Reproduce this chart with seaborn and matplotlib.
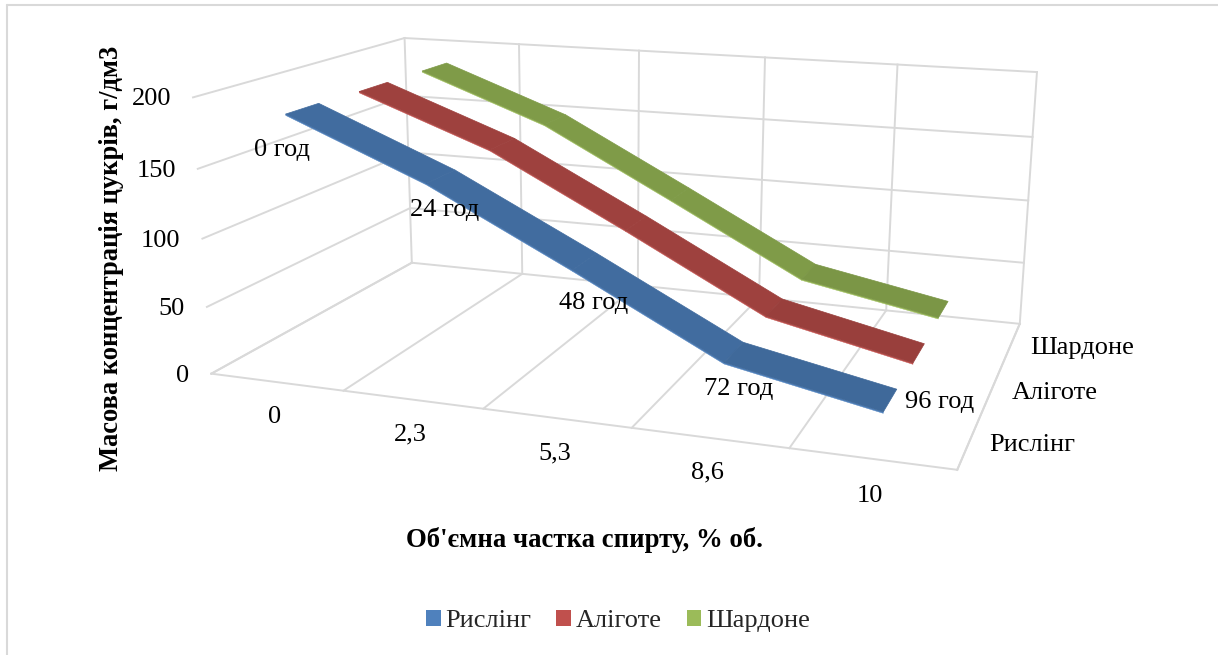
import numpy as np
import matplotlib
matplotlib.use('Agg')
import matplotlib.pyplot as plt
from matplotlib.lines import Line2D
from matplotlib.patches import Patch
from mpl_toolkits.mplot3d.art3d import Poly3DCollection
import seaborn as sns

# ---- data ----
alcohol_labels = ['0', '2,3', '5,3', '8,6', '10']
time_labels = ['0 год', '24 год', '48 год', '72 год', '96 год']
series_names = ['Рислінг', 'Аліготе', 'Шардоне']
riesling = [187, 146, 95, 42, 21]
aligote = [186, 149, 97, 43, 20]
chardonnay = [186, 149, 96, 42, 22]
z_ticks = [0, 50, 100, 150, 200]

series_values = [riesling, aligote, chardonnay]

sns.set_theme(style='white')
plt.rcParams['font.family'] = ['Liberation Serif', 'DejaVu Serif']

W, H = 1218, 655
legend_colors = ['#4F81BD', '#C0504D', '#9BBB59']
top_colors = ['#416C9F', '#9E413E', '#7F9B48']
palette = sns.color_palette(legend_colors)
GRID = '#D9D9D9'
nx, ny = len(alcohol_labels), len(series_names)
zmax = z_ticks[-1]

# camera of the reference: box corners and grid crossings -> image position
calib_world = np.array([[0,0,0],[5,0,0],[5,3,0],[0,3,0],[0,0,200],[0,3,200],[5,3,200],[5,0,200],
                        [1,0,0],[2,0,0],[3,0,0],[4,0,0],[0,0,100],[0,3,100],[5,3,100],
                        [1,3,200],[2,3,200],[3,3,200],[4,3,200]], float)
calib_pix = np.array([[211,373],[958,469],[1020,325],[412,263],[193,97],[404,38],[1037,70],[976,156],
                      [343,390],[483,408],[632,428],[790,448],[202,238],[408,155],[1027,200],
                      [522,44],[638,50],[764,57],[898,64]], float)

def fit_camera(world, pix):
    rows = []
    s = np.array([1, 1, 0.01])
    for w, p in zip(world, pix):
        X = list(w * s) + [1]
        rows.append(X + [0]*4 + [-p[0]*c for c in X])
        rows.append([0]*4 + X + [-p[1]*c for c in X])
    _, _, V = np.linalg.svd(np.array(rows))
    P = V[-1].reshape(3, 4)
    P = P / P[2, 3]
    P[:, 2] /= 100
    return P

CAM = fit_camera(calib_world, calib_pix)

def to_pixel(x, y, z):
    h = CAM @ np.array([x, y, z, 1.0])
    return h[0]/h[2], h[1]/h[2]

fig = plt.figure(figsize=(W/100, H/100), dpi=100, facecolor='white')
ax = fig.add_axes([0, 0, 1, 1], projection='3d', computed_zorder=False)
ax.set_proj_type('ortho')
ax.set_axis_off()
ax.set_xlim3d(0, nx); ax.set_ylim3d(0, ny); ax.set_zlim3d(0, zmax)
ax.apply_aspect = lambda position=None: None

def camera_proj():
    T = ax.transData.inverted().get_matrix()
    F = np.array([[1, 0, 0], [0, -1, H], [0, 0, 1.0]])
    Q = T @ F @ CAM
    null = np.linalg.svd(CAM)[2][-1]
    return np.vstack([Q[0], Q[1], null * 1e-3, Q[2]])
ax.get_proj = camera_proj

# walls and floor
glw = 1.4
def grid(xs, ys, zs):
    ax.plot(xs, ys, zs, color=GRID, lw=glw, zorder=1, solid_capstyle='projecting')

for i in range(nx + 1):
    grid([i, i], [0, ny], [0, 0])
    grid([i, i], [ny, ny], [0, zmax])
grid([0, nx], [0, 0], [0, 0])
grid([nx, nx], [0, ny], [0, 0])
for z in z_ticks:
    grid([0, 0], [0, ny], [z, z])
    grid([0, nx], [ny, ny], [z, z])

# ribbons
half = 0.215
lip = 1.0
def shade(c, f):
    return tuple(min(1, v*f) for v in matplotlib.colors.to_rgb(c))

for k in range(ny - 1, -1, -1):
    vals = series_values[k]
    yc = k + 0.5
    for i in range(nx - 1):
        x0, x1 = i + 0.5, i + 1.5
        z0, z1 = vals[i], vals[i + 1]
        top = [(x0, yc-half, z0), (x1, yc-half, z1), (x1, yc+half, z1), (x0, yc+half, z0)]
        face = [(x0, yc-half, z0), (x1, yc-half, z1), (x1, yc-half, z1-lip), (x0, yc-half, z0-lip)]
        f = 0.97 if i == nx - 2 else 1.0
        col = shade(top_colors[k], f)
        pc = Poly3DCollection([face], facecolor=palette[k], edgecolor=palette[k], linewidth=0.3, zorder=3)
        ax.add_collection3d(pc, autolim=False)
        pc = Poly3DCollection([top], facecolor=col, edgecolor=col, linewidth=0.5, zorder=4)
        ax.add_collection3d(pc, autolim=False)

FS = 19.0
def label(txt, x, y, z, dx, dy, ha='center', va='center', **kw):
    u, v = to_pixel(x, y, z)
    ax.annotate(txt, xy=(u, H - v), xycoords='figure pixels', xytext=(dx, -dy),
                textcoords='offset pixels', ha=ha, va=va, fontsize=FS, color='black',
                annotation_clip=False, zorder=6, **kw)

for z in z_ticks:
    label(str(z), 0, 0, z, -22, 2, ha='right')
for i, t in enumerate(alcohol_labels):
    label(t, i + 0.5, 0, 0, -2, 35 + (2 if i == nx - 1 else 0))
for k, t in enumerate(series_names):
    label(t, nx, k + 0.5, 0, 19, 4 if k == 2 else 5, ha='left')

offsets = [(-20, 42), (4, 34), (9, 42), (5, 37), (50, 2)]
for i, t in enumerate(time_labels):
    label(t, i + 0.5, 0.5, riesling[i], offsets[i][0], offsets[i][1])

fig.text(584/W, 1 - 540/H, "Об'ємна частка спирту, % об.", ha='center', va='center',
         fontsize=19.3, fontweight='bold', color='black')
fig.text(112/W, 1 - 258/H, 'Масова концентрація цукрів, г/дм3', ha='center', va='center',
         rotation=90, fontsize=19.1, fontweight='bold', color='black')

handles = [Patch(facecolor=c, edgecolor='none') for c in palette]
fig.legend(handles, series_names, loc='center', bbox_to_anchor=(618/W, 1 - 621/H), ncol=3,
           frameon=False, fontsize=FS, handlelength=0.55, handleheight=0.55,
           handletextpad=0.18, columnspacing=0.95)

# chart frame (top and left edges are in the picture)
fig.add_artist(Line2D([7/W, 7/W], [0, 1 - 5/H], color=GRID, lw=1.5, transform=fig.transFigure))
fig.add_artist(Line2D([7/W, 1], [1 - 5/H, 1 - 5/H], color=GRID, lw=1.5, transform=fig.transFigure))

fig.savefig('out.png', dpi=100, facecolor='white')
